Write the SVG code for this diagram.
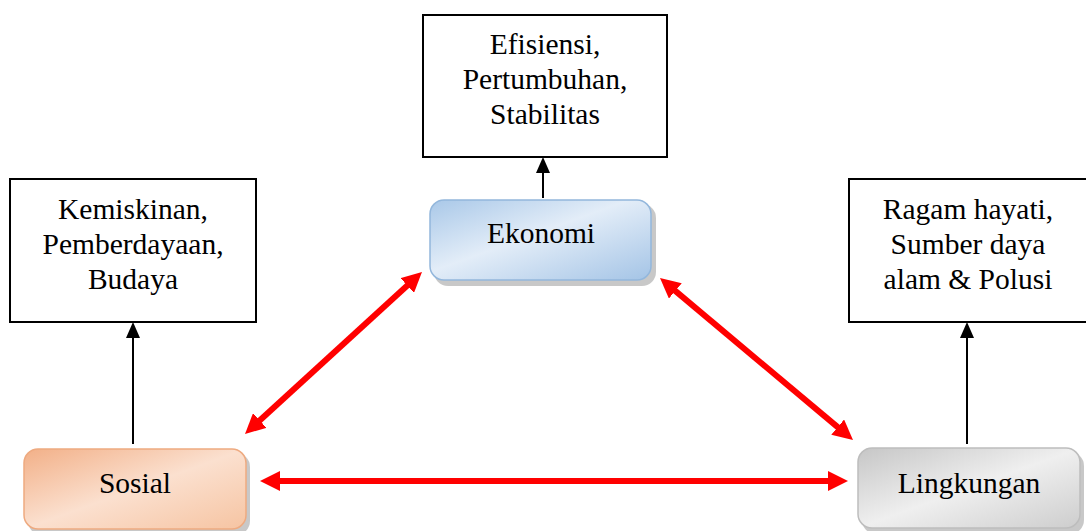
<svg xmlns="http://www.w3.org/2000/svg" width="1086" height="531" viewBox="0 0 1086 531">
<style>
.box{fill:#fff;stroke:#000;stroke-width:2}
.t{font-family:"Liberation Serif","Times New Roman",serif;font-size:29.5px;fill:#000;text-anchor:middle}
.blk{stroke:#000;stroke-width:2;fill:none}
.red{stroke:#ff0000;stroke-width:6;fill:none}
.shadow{fill:#9a9a9a;opacity:0.55}
</style>
<defs>
<linearGradient id="gBlue" x1="0" y1="0" x2="1" y2="1">
<stop offset="0" stop-color="#a9c8e8"/><stop offset="0.45" stop-color="#e3edf8"/><stop offset="1" stop-color="#a4c4e6"/>
</linearGradient>
<linearGradient id="gOrange" x1="0" y1="0" x2="1" y2="1">
<stop offset="0" stop-color="#f2b088"/><stop offset="0.5" stop-color="#fbe0cf"/><stop offset="1" stop-color="#f6c4a2"/>
</linearGradient>
<linearGradient id="gGray" x1="0" y1="0" x2="1" y2="1">
<stop offset="0" stop-color="#c6c6c6"/><stop offset="0.5" stop-color="#efefef"/><stop offset="1" stop-color="#cdcdcd"/>
</linearGradient>
<marker id="ab" markerWidth="16" markerHeight="14" refX="2" refY="7" orient="auto" markerUnits="userSpaceOnUse" viewBox="0 0 16 14">
<path d="M0,0 L16,7 L0,14 z" fill="#000"/>
</marker>
<marker id="ar" markerWidth="20" markerHeight="20" refX="2" refY="10" orient="auto-start-reverse" markerUnits="userSpaceOnUse" viewBox="0 0 20 20">
<path d="M0,0 L20,10 L0,20 z" fill="#ff0000"/>
</marker>
</defs>

<g id="box-ekonomi-aspek">
<rect class="box" x="423" y="15" width="244" height="142"/>
<text class="t" x="545" y="54">Efisiensi,</text>
<text class="t" x="545" y="89">Pertumbuhan,</text>
<text class="t" x="545" y="124">Stabilitas</text>
</g>
<g id="box-sosial-aspek">
<rect class="box" x="10" y="179" width="246" height="143"/>
<text class="t" x="133" y="219">Kemiskinan,</text>
<text class="t" x="133" y="254">Pemberdayaan,</text>
<text class="t" x="133" y="289">Budaya</text>
</g>
<g id="box-lingkungan-aspek">
<rect class="box" x="849" y="179" width="240" height="143"/>
<text class="t" x="968" y="219">Ragam hayati,</text>
<text class="t" x="968" y="254">Sumber daya</text>
<text class="t" x="968" y="289">alam &amp; Polusi</text>
</g>

<g id="node-ekonomi">
<rect class="shadow" x="434" y="204" width="222" height="82" rx="14"/>
<rect x="430" y="200" width="221" height="80" rx="14" fill="url(#gBlue)" stroke="#93b7dc" stroke-width="1.5"/>
<text class="t" x="541" y="243">Ekonomi</text>
</g>
<g id="node-sosial">
<rect class="shadow" x="28" y="453" width="222" height="82" rx="14"/>
<rect x="24" y="449" width="222" height="80" rx="14" fill="url(#gOrange)" stroke="#eeaa80" stroke-width="1.5"/>
<text class="t" x="135" y="493">Sosial</text>
</g>
<g id="node-lingkungan">
<rect class="shadow" x="862" y="452" width="222" height="82" rx="14"/>
<rect x="858" y="448" width="222" height="80" rx="14" fill="url(#gGray)" stroke="#bdbdbd" stroke-width="1.5"/>
<text class="t" x="969" y="493">Lingkungan</text>
</g>

<g id="connectors">
<line class="blk" x1="543" y1="198" x2="543" y2="171" marker-end="url(#ab)"/>
<line class="blk" x1="133" y1="444" x2="133" y2="336" marker-end="url(#ab)"/>
<line class="blk" x1="967" y1="444" x2="967" y2="336" marker-end="url(#ab)"/>
<line class="red" x1="258.3" y1="421.8" x2="408.7" y2="284.2" marker-start="url(#ar)" marker-end="url(#ar)"/>
<line class="red" x1="673.8" y1="289.6" x2="839.2" y2="428.4" marker-start="url(#ar)" marker-end="url(#ar)"/>
<line class="red" x1="278" y1="481" x2="830" y2="481" marker-start="url(#ar)" marker-end="url(#ar)"/>
</g>
</svg>
